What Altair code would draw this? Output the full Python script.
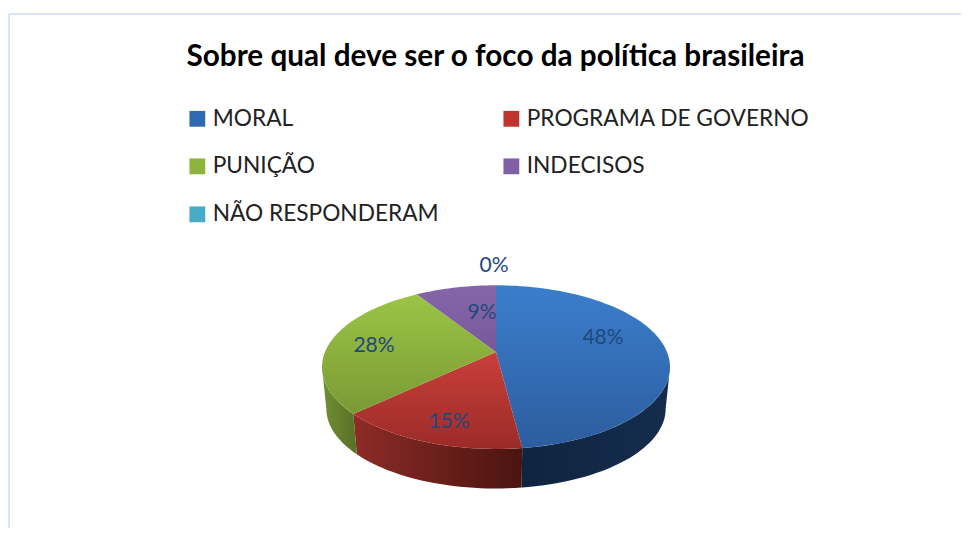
import math
import altair as alt
import pandas as pd

TITLE = "Sobre qual deve ser o foco da política brasileira"
CATEGORIES = ["MORAL", "PROGRAMA DE GOVERNO", "PUNIÇÃO", "INDECISOS", "NÃO RESPONDERAM"]
SHARES = [48, 15, 28, 9, 0]
LEGEND_ORDER = ["MORAL", "PUNIÇÃO", "NÃO RESPONDERAM", "PROGRAMA DE GOVERNO", "INDECISOS"]
LEGEND_COLORS = ["#2F69B3", "#8DB43C", "#48ABC6", "#BE3530", "#7F60A4"]

W, H = 953, 520
OX, OY = 8, 8
CX, CY = 496 - OX, 352 - OY
AX, AY, B = 171.0, 79.0, 0.185
DEPTH, SHRINK = 42.0, 0.975
FONT = "Lato"
X = alt.X("x:Q", scale=alt.Scale(domain=[0, W]), axis=None)
Y = alt.Y("y:Q", scale=alt.Scale(domain=[H, 0]), axis=None)


def project(deg, r=1.0):
    t = math.radians(deg)
    u, v = r * math.sin(t), r * math.cos(t)
    w = 1 + B * v
    return CX + AX * u / w, CY - AY * v / w


def lower(deg):
    x, y = project(deg)
    return CX + (x - CX) * SHRINK, CY + (y - CY) * SHRINK + DEPTH


def arc(a, b, step=2.0):
    n = max(2, int(abs(b - a) / step) + 1)
    return [a + (b - a) * i / n for i in range(n + 1)]


def polygon(points, fill):
    df = pd.DataFrame(points, columns=["x", "y"]).reset_index()
    return (
        alt.Chart(df)
        .mark_line(fill=fill, stroke="#00000000", strokeWidth=0, interpolate="linear", clip=False)
        .encode(x=X, y=Y, order="index:Q")
    )


def grad(stops, horizontal=False):
    return alt.Gradient(
        gradient="linear",
        stops=[alt.GradientStop(color=c, offset=o) for o, c in stops],
        x1=0, y1=0, x2=1 if horizontal else 0, y2=0 if horizontal else 1,
    )


TOP_FILLS = [
    grad([(0, "#3B7ECD"), (1, "#2C5D9E")]),
    grad([(0, "#CA3F3A"), (1, "#9B2B28")]),
    grad([(0, "#9CC446"), (1, "#7A9A34")]),
    grad([(0, "#8566A9"), (1, "#77599B")]),
    grad([(0, "#4BACC6"), (1, "#3A8EA6")]),
]
WALL_FILLS = [
    grad([(0, "#0F2440"), (1, "#152C4C")], True),
    grad([(0, "#8E2B27"), (1, "#4A1410")], True),
    grad([(0, "#6F9032"), (1, "#586F26")], True),
    grad([(0, "#5A4478"), (1, "#4A3664")], True),
    grad([(0, "#2E7F96"), (1, "#256A7E")], True),
]

layers = []

# frame
FRAME = "#D6E4F5"
layers.append(alt.Chart(pd.DataFrame({"a": [0]})).mark_rule(color=FRAME, strokeWidth=2).encode(
    x=alt.value(1), x2=alt.value(W), y=alt.value(6), y2=alt.value(6)))
layers.append(alt.Chart(pd.DataFrame({"a": [0]})).mark_rule(color=FRAME, strokeWidth=2).encode(
    x=alt.value(1), x2=alt.value(1), y=alt.value(6), y2=alt.value(H)))

# angles of slices, clockwise from 12 o'clock
edges = [0.0]
for s in SHARES:
    edges.append(edges[-1] + s * 3.6)
RIGHT, LEFT = 100.7, 259.3

# side wall
for i, s in enumerate(SHARES):
    a, b = max(edges[i], RIGHT), min(edges[i + 1], LEFT)
    if s == 0 or b <= a:
        continue
    angles = arc(a, b)
    pts = [project(d) for d in angles] + [lower(d) for d in reversed(angles)]
    layers.append(polygon(pts, WALL_FILLS[i]))

# top surface
for i, s in enumerate(SHARES):
    if s == 0:
        continue
    pts = [(CX, CY)] + [project(d) for d in arc(edges[i], edges[i + 1])]
    layers.append(polygon(pts, TOP_FILLS[i]))

# value labels
LABEL_POS = [(603, 338), (449, 422), (374, 346), (482, 313), (494, 266)]
for s, (px, py) in zip(SHARES, LABEL_POS):
    layers.append(
        alt.Chart(pd.DataFrame({"t": [f"{s}%"]}))
        .mark_text(font=FONT, fontSize=21, color="#1F497D", align="center", baseline="middle")
        .encode(text="t:N", x=alt.value(px - OX), y=alt.value(py - OY))
    )

# title
layers.append(
    alt.Chart(pd.DataFrame({"t": [TITLE]}))
    .mark_text(font=FONT, fontSize=29.7, fontWeight="bold", color="#000000", align="center", baseline="middle")
    .encode(text="t:N", x=alt.value(495.5 - OX), y=alt.value(57 - OY))
)

# legend
legend_df = pd.DataFrame({"cat": CATEGORIES})
layers.append(
    alt.Chart(legend_df)
    .mark_square(size=0, opacity=0)
    .encode(
        color=alt.Color(
            "cat:N",
            scale=alt.Scale(domain=LEGEND_ORDER, range=LEGEND_COLORS),
            legend=alt.Legend(
                orient="none", legendX=186 - OX, legendY=107 - OY, columns=2, title=None,
                symbolType="square", symbolSize=250, symbolOpacity=1, symbolStrokeWidth=0,
                labelFont=FONT, labelFontSize=22.7, labelColor="#222222", labelOffset=4,
                labelLimit=400, rowPadding=24, columnPadding=61,
            ),
        )
    )
)

chart = (
    alt.layer(*layers)
    .resolve_scale(x="shared", y="shared")
    .properties(width=W, height=H, padding=0, autosize=alt.AutoSizeParams(type="none"), background="#FFFFFF")
    .configure_view(stroke=None)
)
chart.save("out.html", embed_options={"renderer": "svg", "actions": False})
